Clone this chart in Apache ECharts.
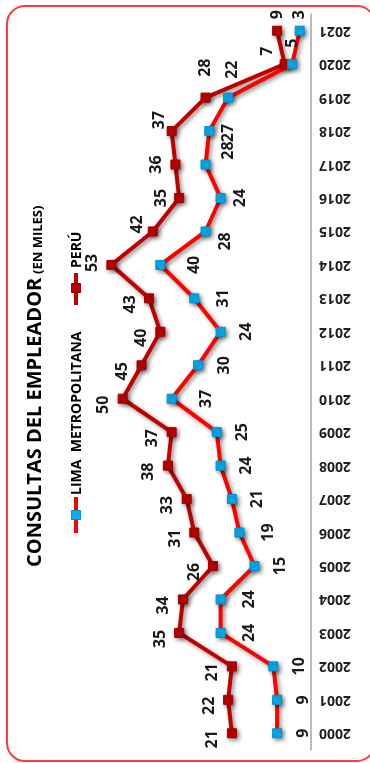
<!DOCTYPE html>
<html><head><meta charset="utf-8">
<script src="https://cdn.jsdelivr.net/npm/echarts@6/dist/echarts.min.js"></script>
<style>html,body{margin:0;padding:0;background:#fff}#c{width:370px;height:763px}</style>
</head><body><div id="c"></div>
<script>
// ---- data ----
const years = ['2000','2001','2002','2003','2004','2005','2006','2007','2008','2009','2010','2011','2012','2013','2014','2015','2016','2017','2018','2019','2020','2021'];
const peru  = [21,22,21,35,34,26,31,33,38,37,50,45,40,43,53,42,35,36,37,28,7,9];
const lima  = [9,9,10,24,24,15,19,21,24,25,37,30,24,31,40,28,24,28,27,22,5,3];
const seriesNames = ['PERÚ', 'LIMA  METROPOLITANA'];
const titleMain = 'CONSULTAS DEL EMPLEADOR';
const titleSub = '(EN MILES)';

// ---- label nudges (screen px, dx right / dy down) ----
const peruNudge = {'2014':[-19,-2],'2015':[-15,-7],'2016':[-18,0],'2017':[-19,0],'2018':[-12,-11],'2019':[0,-30],'2020':[-17,-13],'2021':[0,-16]};
const limaNudge = {'2003':[29,0],'2004':[29,0],'2006':[29,0],'2010':[35,0],'2013':[29,0],'2014':[34,0],'2015':[20,10],'2016':[20,0],'2017':[23,-14],'2018':[19,2],'2019':[4,-28],'2020':[0,-21],'2021':[0,-16]};
// label rotated 90deg: offset is applied in rotated frame
function off(sx, sy){ return [-sy, sx]; }

const FONT = "'Open Sans', 'DejaVu Sans', sans-serif";
const shadow = {shadowColor:'rgba(0,0,0,0.45)', shadowBlur:4, shadowOffsetX:2, shadowOffsetY:2};

function build(vals, nudge, def){
  return vals.map((v,i)=>{
    const n = nudge[years[i]] || def;
    return {value: v, label: {offset: off(n[0], n[1])}};
  });
}

const chart = echarts.init(document.getElementById('c'), null, {renderer:'canvas'});
chart.setOption({
  backgroundColor:'#fff',
  animation:false,
  grid:{left:85, right:59, top:14, bottom:13},
  xAxis:{type:'value', min:0, max:60, inverse:true, show:false, splitLine:{show:false}},
  yAxis:{type:'category', data:years, position:'right', boundaryGap:true,
    axisLine:{show:true, onZero:false, lineStyle:{color:'#a6a6a6', width:1.5}},
    axisTick:{show:false},
    axisLabel:{rotate:180, margin:8, color:'#1f1f1f', fontFamily:FONT, fontWeight:'bold', fontSize:14}
  },
  series:[
    {name:seriesNames[0], type:'line', data:build(peru, peruNudge, [-19,6]),
      symbol:'rect', symbolSize:9,
      lineStyle:Object.assign({color:'#C00000', width:4}, shadow),
      itemStyle:Object.assign({color:'#C00000', borderColor:'#A00000', borderWidth:1}, shadow),
      label:{show:true, position:'inside', rotate:90, color:'#1a1a1a', fontFamily:FONT, fontWeight:'bold', fontSize:16}
    },
    {name:seriesNames[1], type:'line', data:build(lima, limaNudge, [26,0]),
      symbol:'rect', symbolSize:9,
      lineStyle:Object.assign({color:'#FF0000', width:4}, shadow),
      itemStyle:Object.assign({color:'#00B0F0', borderColor:'#0090D0', borderWidth:1}, shadow),
      label:{show:true, position:'inside', rotate:90, color:'#1a1a1a', fontFamily:FONT, fontWeight:'bold', fontSize:16}
    }
  ],
  graphic:[
    {type:'rect', z:-1, shape:{x:7, y:6, width:368, height:755, r:18}, style:{fill:'none', stroke:'#ff3c3c', lineWidth:2}},
    {type:'text', x:35, y:567, rotation:Math.PI/2,
      style:{text:titleMain, fill:'#000', font:"bold 20px " + FONT, align:'left', verticalAlign:'middle', textAlign:'left', textVerticalAlign:'middle'}},
    {type:'text', x:38, y:274, rotation:Math.PI/2,
      style:{text:titleSub, fill:'#000', font:"bold 13px " + FONT, align:'left', verticalAlign:'middle', textAlign:'left', textVerticalAlign:'middle'}},
    // legend: LIMA
    {type:'line', shape:{x1:76, y1:497, x2:76, y2:533}, style:{stroke:'#FF0000', lineWidth:4}},
    {type:'rect', shape:{x:71.5, y:510.5, width:9, height:9}, style:{fill:'#00B0F0', stroke:'#0090D0', lineWidth:1}},
    {type:'text', x:77, y:495, rotation:Math.PI/2,
      style:{text:seriesNames[1], fill:'#000', font:"bold 14px " + FONT, align:'left', verticalAlign:'middle', textAlign:'left', textVerticalAlign:'middle'}},
    // legend: PERU
    {type:'line', shape:{x1:76, y1:273, x2:76, y2:305}, style:{stroke:'#C00000', lineWidth:4}},
    {type:'rect', shape:{x:71.5, y:283.5, width:9, height:9}, style:{fill:'#C00000', stroke:'#A00000', lineWidth:1}},
    {type:'text', x:77, y:268, rotation:Math.PI/2,
      style:{text:seriesNames[0], fill:'#000', font:"bold 14px " + FONT, align:'left', verticalAlign:'middle', textAlign:'left', textVerticalAlign:'middle'}}
  ]
});
</script></body></html>
